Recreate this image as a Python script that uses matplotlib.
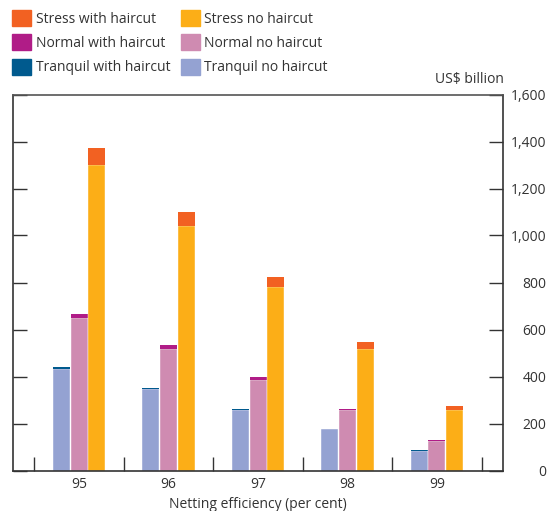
import numpy as np
import matplotlib.pyplot as plt
from matplotlib.patches import Patch

plt.rcParams['font.family'] = ['Open Sans', 'DejaVu Sans']

# Netting efficiency categories
categories = ['95', '96', '97', '98', '99']

# US$ billion; "with haircut" values are totals (bar tops)
tranquil_no = [434, 346, 257, 175, 84]
tranquil_with = [441, 352, 263, 178, 87]
normal_no = [650, 519, 387, 257, 127]
normal_with = [666, 534, 396, 263, 130]
stress_no = [1300, 1040, 779, 517, 257]
stress_with = [1372, 1100, 823, 548, 273]

c_stress_hc = '#f26122'
c_stress = '#fcae17'
c_normal_hc = '#b01c87'
c_normal = '#cf8bb1'
c_tranq_hc = '#005a8e'
c_tranq = '#94a2d2'
ink = '#333333'
fs = 10

fig = plt.figure(figsize=(5.5, 5.11), dpi=100)
ax = fig.add_axes([13 / 550, 40.5 / 511, 490.3 / 550, 376 / 511])

x = np.arange(1, len(categories) + 1)
w = 0.19
step = 0.2

series = [
    (-step, tranquil_no, tranquil_with, c_tranq, c_tranq_hc),
    (0, normal_no, normal_with, c_normal, c_normal_hc),
    (step, stress_no, stress_with, c_stress, c_stress_hc),
]
for off, base, total, col, col_hc in series:
    base = np.array(base)
    extra = np.array(total) - base
    ax.bar(x + off, base, w, color=col, edgecolor='white', linewidth=0.3)
    ax.bar(x + off, extra, w, bottom=base, color=col_hc, linewidth=0)

ax.set_xlim(0.262, 5.741)
ax.set_ylim(0, 1600)

# group boundary ticks on x axis
ax.set_xticks(np.arange(0.5, 6.0, 1.0))
ax.set_xticklabels([])
ax.set_xticks(x, minor=True)
ax.set_xticklabels(categories, minor=True)
ax.tick_params(axis='x', which='major', direction='in', length=10, width=1, color=ink)
ax.tick_params(axis='x', which='minor', length=0, pad=5, labelsize=fs, labelcolor=ink)

yt = np.arange(0, 1601, 200)
ax.set_yticks(yt)
ax.set_yticklabels([f'{v:,}' for v in yt])
ax.yaxis.set_ticks_position('both')
ax.tick_params(axis='y', which='major', direction='in', length=10, width=1, color=ink,
               labelleft=False, labelright=True, labelsize=fs, labelcolor=ink, pad=31)
plt.setp(ax.get_yticklabels(), ha='right')

for s in ax.spines.values():
    s.set_color(ink)
    s.set_linewidth(1.2)
ax.spines['top'].set_color('#555555')

ax.set_xlabel('Netting efficiency (per cent)', fontsize=fs, color=ink, labelpad=3)
fig.text(504 / 550, 1 - 80 / 511, 'US$ billion', ha='right', va='center',
         fontsize=fs, color=ink)

handles = [
    Patch(color=c_stress_hc, label='Stress with haircut'),
    Patch(color=c_normal_hc, label='Normal with haircut'),
    Patch(color=c_tranq_hc, label='Tranquil with haircut'),
    Patch(color=c_stress, label='Stress no haircut'),
    Patch(color=c_normal, label='Normal no haircut'),
    Patch(color=c_tranq, label='Tranquil no haircut'),
]
fig.legend(handles=handles, ncol=2, loc='upper left',
           bbox_to_anchor=(12 / 550, 1 - 10 / 511), frameon=False,
           fontsize=fs, labelcolor=ink, handlelength=1.4, handleheight=1.4,
           handletextpad=0.3, labelspacing=0.55, columnspacing=0.75,
           borderaxespad=0, borderpad=0)

fig.savefig('out.png', dpi=100)
